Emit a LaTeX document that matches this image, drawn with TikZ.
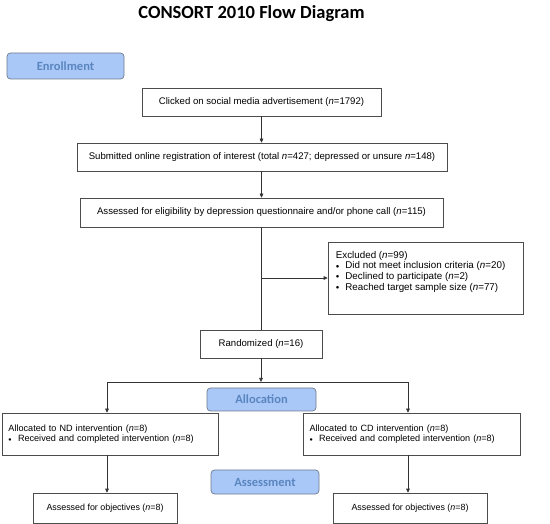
\documentclass[tikz,border=0pt]{standalone}
\usepackage{fontspec}
\setmainfont{Liberation Sans}
\newfontfamily\calfont{Carlito}
\usetikzlibrary{arrows.meta}
\definecolor{stagefill}{HTML}{A9C7F7}
\definecolor{stageline}{HTML}{6E7C8E}
\definecolor{stagetext}{HTML}{5A86C0}
\tikzset{
  box/.style={draw=black!70, line width=0.6pt, inner sep=0pt,
    font=\fontsize{9.6}{10.7}\selectfont},
  stage/.style={draw=stageline, fill=stagefill, line width=0.7pt,
    rounded corners=3.5pt, inner sep=0pt, text=stagetext,
    font=\calfont\bfseries\fontsize{12.5}{14}\selectfont},
  flow/.style={draw=black!80, line width=0.6pt},
  arr/.style={flow, -{Triangle[length=4pt,width=3.6pt]}},
}
\newcommand{\nn}{\textit{n}}
\newcommand{\bul}{\makebox[9.5pt][l]{\raisebox{0.5pt}{\scalebox{0.7}{$\bullet$}}}}

\begin{document}
\begin{tikzpicture}[x=1pt,y=-1pt]
\useasboundingbox (0,0) rectangle (550,524);

\node (title) at (251.5,14) {\calfont\bfseries\fontsize{18.5}{20}\selectfont CONSORT 2010 Flow Diagram};

% stage labels
\node[stage, minimum width=117pt, minimum height=26pt] (enroll) at (65.5,66) {Enrollment};
\node[stage, minimum width=109pt, minimum height=23pt] (alloc) at (261.5,399.5) {Allocation};
\node[stage, minimum width=108pt, minimum height=24pt] (assess) at (265,482) {Assessment};

% enrollment
\node[box, minimum width=239pt, minimum height=28pt] (click) at (261.5,102)
  {Clicked on social media advertisement (\nn=1792)};
\node[box, minimum width=370pt, minimum height=28pt] (reg) at (262,157)
  {Submitted online registration of interest (total \nn=427; depressed or unsure \nn=148)};
\node[box, minimum width=363pt, minimum height=29pt] (elig) at (261.5,212.5)
  {Assessed for eligibility by depression questionnaire and/or phone call (\nn=115)};
\node[box, minimum width=195pt, minimum height=72pt] (excl) at (425.5,278) {};
\node[anchor=north west, inner sep=0pt, align=left, font=\fontsize{9.8}{10.7}\selectfont]
  (excltext) at ([shift={(8,9)}]excl.north west)
  {Excluded (\nn=99)\\
   \bul Did not meet inclusion criteria (\nn=20)\\
   \bul Declined to participate (\nn=2)\\
   \bul Reached target sample size (\nn=77)};
\node[box, minimum width=122pt, minimum height=28pt] (rand) at (261,344) {Randomized (\nn=16)};

% allocation
\node[box, minimum width=216pt, minimum height=42pt, text width=203pt, align=left,
  font=\fontsize{9.1}{10.5}\selectfont] (ndbox) at (110,434)
  {Allocated to ND intervention (\nn=8)\\
   \bul Received and completed intervention (\nn=8)};
\node[box, minimum width=217pt, minimum height=42pt, text width=204pt, align=left,
  font=\fontsize{9.1}{10.5}\selectfont] (cdbox) at (411.5,434)
  {Allocated to CD intervention (\nn=8)\\
   \bul Received and completed intervention (\nn=8)};

% assessment
\node[box, minimum width=144pt, minimum height=30pt, font=\fontsize{8.9}{10}\selectfont] (ndobj) at (105,508) {Assessed for objectives (\nn=8)};
\node[box, minimum width=154pt, minimum height=30pt, font=\fontsize{8.9}{10}\selectfont] (cdobj) at (410,508) {Assessed for objectives (\nn=8)};

\coordinate (split) at (261,382);
\coordinate (ndsplit) at (107,382);
\coordinate (cdsplit) at (408,382);

\draw[arr] (click.south) -- (click.south |- reg.north);
\draw[arr] (click.south |- reg.south) -- (click.south |- elig.north);
\draw[flow] (rand.north |- elig.south) -- (rand.north);
\draw[arr] (rand.north |- excl.west) -- (excl.west);
\draw[arr] (rand.south) -- (split);
\draw[flow] (ndsplit) -- (cdsplit);
\draw[arr] (ndsplit) -- (ndsplit |- ndbox.north);
\draw[arr] (cdsplit) -- (cdsplit |- cdbox.north);
\draw[arr] (ndsplit |- ndbox.south) -- (ndsplit |- ndobj.north);
\draw[arr] (cdsplit |- cdbox.south) -- (cdsplit |- cdobj.north);
\end{tikzpicture}
\end{document}
